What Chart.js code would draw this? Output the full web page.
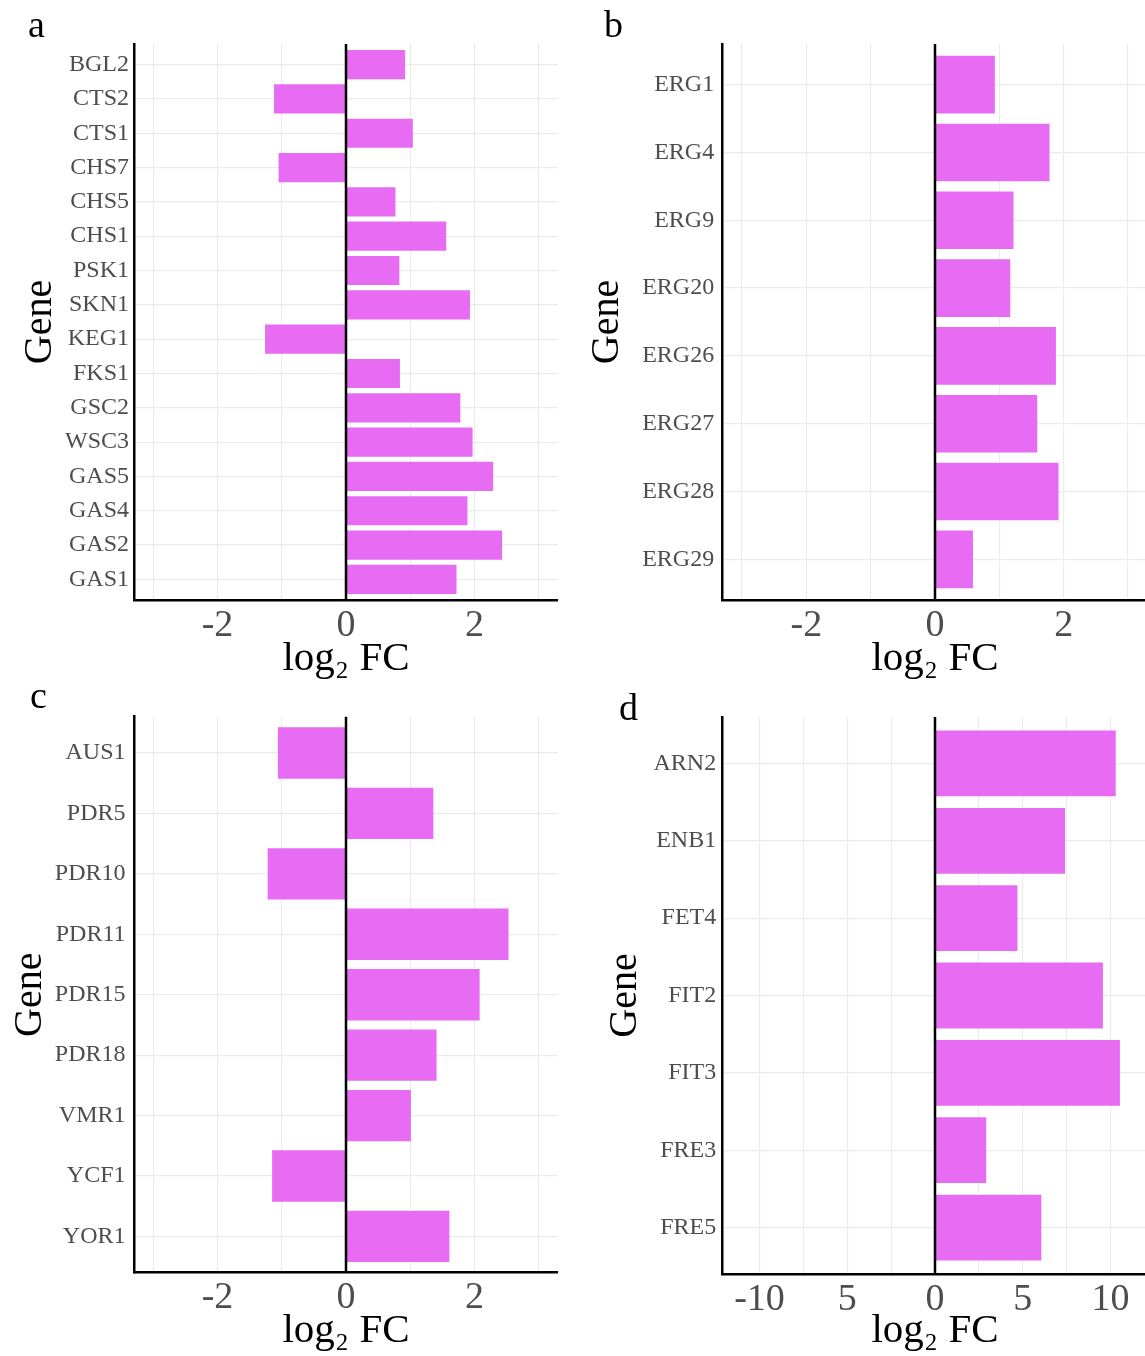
<!DOCTYPE html>
<html>
<head>
<meta charset="utf-8">
<script src="https://cdn.jsdelivr.net/npm/chart.js@4.4.1/dist/chart.umd.min.js"></script>
<style>
  html, body { margin: 0; padding: 0; background: #fff; overflow: hidden; }
  #wrap { position: relative; width: 1145px; height: 1356px; overflow: hidden; background: #fff; }
  canvas { position: absolute; }
  .lbl { position: absolute; font-family: 'Liberation Serif', 'Times New Roman', serif; font-size: 38px; line-height: 38px; color: #000; }
</style>
</head>
<body>
<div id="wrap">
  <canvas id="ca" width="572" height="690" style="left:0px;top:0px;width:572px;height:690px"></canvas>
  <canvas id="cb" width="580" height="690" style="left:572px;top:0px;width:580px;height:690px"></canvas>
  <canvas id="cc" width="572" height="678" style="left:0px;top:678px;width:572px;height:678px"></canvas>
  <canvas id="cd" width="580" height="678" style="left:572px;top:678px;width:580px;height:678px"></canvas>
  <div class="lbl" style="left:28px;top:5px">a</div>
  <div class="lbl" style="left:604px;top:5px">b</div>
  <div class="lbl" style="left:30px;top:676px">c</div>
  <div class="lbl" style="left:619px;top:688px">d</div>
</div>
<script>
// ---- data ----
const genesA = ['BGL2','CTS2','CTS1','CHS7','CHS5','CHS1','PSK1','SKN1','KEG1','FKS1','GSC2','WSC3','GAS5','GAS4','GAS2','GAS1'];
const fcA    = [0.92,-1.12,1.04,-1.05,0.77,1.56,0.83,1.93,-1.26,0.84,1.78,1.97,2.29,1.89,2.43,1.72];

const genesB = ['ERG1','ERG4','ERG9','ERG20','ERG26','ERG27','ERG28','ERG29'];
const fcB    = [0.93,1.78,1.22,1.17,1.88,1.59,1.92,0.59];

const genesC = ['AUS1','PDR5','PDR10','PDR11','PDR15','PDR18','VMR1','YCF1','YOR1'];
const fcC    = [-1.06,1.36,-1.22,2.53,2.08,1.41,1.01,-1.15,1.61];

const genesD = ['ARN2','ENB1','FET4','FIT2','FIT3','FRE3','FRE5'];
const fcD    = [10.3,7.41,4.7,9.57,10.54,2.92,6.06];

const ticksSmall      = [-3,-2,-1,0,1,2,3];
const tickLabelsSmall = ['','-2','','0','','2',''];
const ticksD          = [-10,-7.5,-5,-2.5,0,2.5,5,7.5,10];
const tickLabelsD     = ['-10','','5','','0','','5','','10'];

const xTitle = 'log\u2082 FC';
const yTitle = 'Gene';

// ---- drawing ----
const SERIF = "'Liberation Serif', 'Times New Roman', 'DejaVu Serif', serif";
const BAR = '#E76BF3';

const zeroLine = {
  id: 'zeroLine',
  afterDatasetsDraw(chart) {
    const x = chart.scales.x.getPixelForValue(0);
    const a = chart.chartArea;
    const ctx = chart.ctx;
    ctx.save();
    ctx.strokeStyle = '#000';
    ctx.lineWidth = 2.5;
    ctx.beginPath();
    ctx.moveTo(x, a.top);
    ctx.lineTo(x, a.bottom);
    ctx.stroke();
    ctx.restore();
  }
};

function makeChart(id, genes, values, xr, xTicks, xLabels, lay) {
  new Chart(document.getElementById(id), {
    type: 'bar',
    data: {
      datasets: [{
        data: values.map((v, i) => ({ x: v, y: i })),
        backgroundColor: BAR,
        borderWidth: 0,
        categoryPercentage: 1,
        barPercentage: 0.85
      }]
    },
    options: {
      indexAxis: 'y',
      responsive: false,
      animation: false,
      devicePixelRatio: 1,
      layout: { padding: { top: lay.top, left: 0, right: lay.right, bottom: 0 } },
      plugins: { legend: { display: false }, tooltip: { enabled: false } },
      scales: {
        x: {
          type: 'linear', min: xr[0], max: xr[1],
          afterBuildTicks: s => { s.ticks = xTicks.map(v => ({ value: v })); },
          afterFit: s => { s.height = lay.xh; },
          ticks: {
            callback: (v, i) => xLabels[i],
            font: { family: SERIF, size: 38 }, color: '#4D4D4D',
            padding: 3, maxRotation: 0, minRotation: 0, autoSkip: false
          },
          grid: { color: '#EBEBEB', lineWidth: 1.1, drawTicks: false },
          border: { display: true, color: '#000', width: 2.5 },
          title: {
            display: true, text: xTitle, color: '#000',
            font: { family: SERIF, size: 41 }, padding: { top: 0, bottom: lay.xtb }
          }
        },
        y: {
          type: 'linear', reverse: true, min: -0.6, max: genes.length - 0.4, offset: false,
          afterBuildTicks: s => { s.ticks = genes.map((g, i) => ({ value: i })); },
          afterFit: s => { s.width = lay.yw; },
          ticks: {
            callback: v => genes[v],
            font: { family: SERIF, size: 24 }, color: '#4D4D4D',
            padding: lay.yp, autoSkip: false
          },
          grid: { color: '#EBEBEB', lineWidth: 1.2, drawTicks: false, offset: false },
          border: { display: true, color: '#000', width: 2.5 },
          title: {
            display: true, text: yTitle, color: '#000',
            font: { family: SERIF, size: 40 }, padding: { top: lay.ytp, bottom: 0 }
          }
        }
      }
    },
    plugins: [zeroLine]
  });
}

makeChart('ca', genesA, fcA, [-3.3, 3.3], ticksSmall, tickLabelsSmall,
  { top: 44, right: 14, yw: 134, xh: 90, xtb: 6, ytp: 16.5, yp: 5 });
makeChart('cb', genesB, fcB, [-3.3, 3.3], ticksSmall, tickLabelsSmall,
  { top: 44, right: 4.7, yw: 150.7, xh: 90, xtb: 6, ytp: 11.5, yp: 8.5 });
makeChart('cc', genesC, fcC, [-3.3, 3.3], ticksSmall, tickLabelsSmall,
  { top: 38.7, right: 14, yw: 134, xh: 83.3, xtb: 0, ytp: 6, yp: 8.5 });
makeChart('cd', genesD, fcD, [-12.1, 12.1], ticksD, tickLabelsD,
  { top: 39, right: 4.7, yw: 150.7, xh: 82, xtb: 0, ytp: 29.5, yp: 6.5 });
</script>
</body>
</html>
